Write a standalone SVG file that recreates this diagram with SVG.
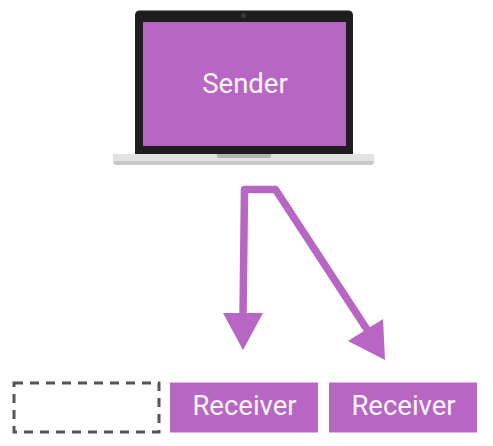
<svg xmlns="http://www.w3.org/2000/svg" width="493" height="446" viewBox="0 0 493 446">
<style>
.fill{fill:#b766c4}
.lbl{fill:#fdf6fd;font-family:Roboto,"Liberation Sans",sans-serif;font-size:27.500px;text-anchor:middle}
.wire{fill:none;stroke:#b766c4;stroke-width:7.500;stroke-linejoin:round}
.head{fill:#b766c4}
</style>
<rect width="493" height="446" fill="#fff"/>
<g id="sender">
<path d="M135 154V15.500Q135 10.500 140 10.500H348Q353 10.500 353 15.500V154Z" fill="#1e1e1e"/>
<circle cx="243.500" cy="15.500" r="2.500" fill="#3a3a3a"/>
<path d="M113 154H374V161Q374 165 370 165H117Q113 165 113 161Z" fill="#e2e2e2"/>
<path d="M113 161H374Q374 165 370 165H117Q113 165 113 161Z" fill="#c8c8c8"/>
<path d="M217 154H271V156Q271 158 268 158H220Q217 158 217 156Z" fill="#b4b4b4"/>
<rect class="fill" x="143" y="22" width="203" height="124"/>
<text class="lbl" x="245" y="93">Sender</text>
</g>
<g id="connectors">
<path class="wire" d="M243 315L244.500 189.500H275.500L368 331"/>
<polygon class="head" points="223,313 263,313 243,350"/>
<polygon class="head" points="348,341 383,319 385,360"/>
</g>
<g id="empty-slot">
<rect x="14" y="383" width="145" height="49" fill="none" stroke="#555" stroke-width="3" stroke-dasharray="9 7"/>
</g>
<g id="receiver-1">
<rect class="fill" x="170" y="382.500" width="148" height="50"/>
<text class="lbl" x="244.500" y="415">Receiver</text>
</g>
<g id="receiver-2">
<rect class="fill" x="329" y="382.500" width="148" height="50"/>
<text class="lbl" x="403.500" y="415">Receiver</text>
</g>
</svg>
